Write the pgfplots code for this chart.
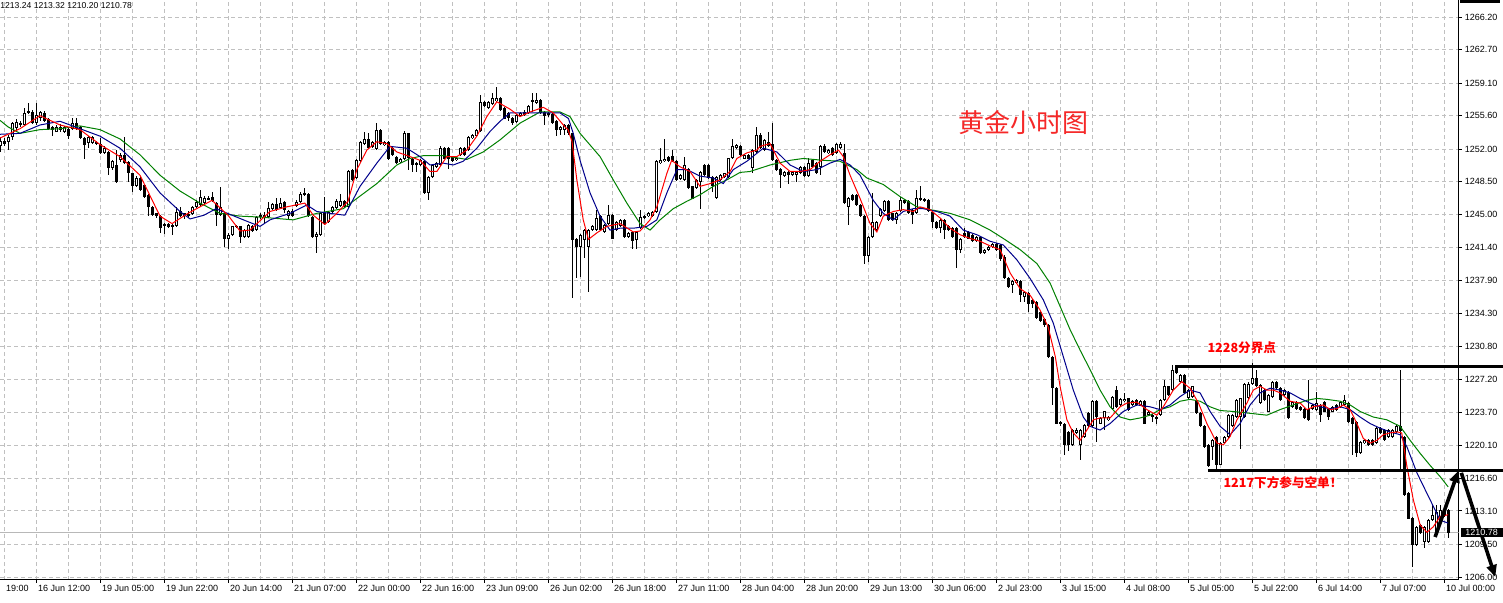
\documentclass[border=0pt]{standalone}
\usepackage{fontspec}
\setmainfont{Liberation Sans}
\newfontfamily\cjk{Noto Sans CJK SC}
\usepackage{pgfplots}
\usepackage{pgfplotstable}
\pgfplotsset{compat=1.18}
\usetikzlibrary{arrows.meta}

\definecolor{gridgray}{RGB}{192,192,192}
\definecolor{maRed}{RGB}{255,0,0}
\definecolor{maBlue}{RGB}{0,0,139}
\definecolor{maGreen}{RGB}{0,128,0}
\definecolor{noteRed}{RGB}{245,40,40}

% hourly bars: index, open, high, low, close
\pgfplotstableread{
i o h l c
0 1252.3 1253.3 1251.7 1252.9
1 1252.9 1253.2 1252.4 1252.6
2 1252.8 1253.5 1251.9 1253.3
3 1253.3 1254.9 1253.0 1254.8
4 1254.3 1255.2 1254.0 1254.9
5 1254.8 1255.0 1254.4 1254.6
6 1254.6 1256.4 1254.5 1255.9
7 1255.9 1257.0 1255.8 1256.1
8 1256.0 1256.2 1254.7 1254.8
9 1254.8 1257.0 1254.6 1255.7
10 1255.3 1256.1 1255.0 1256.0
11 1255.9 1256.1 1254.9 1255.0
12 1255.2 1255.3 1254.1 1254.2
13 1254.4 1254.5 1253.4 1254.1
14 1253.9 1254.6 1253.8 1254.4
15 1254.4 1254.7 1253.9 1254.1
16 1253.9 1254.5 1253.7 1254.4
17 1254.2 1254.3 1253.1 1253.4
18 1254.2 1255.3 1254.1 1254.8
19 1254.8 1255.4 1254.1 1254.2
20 1254.4 1254.5 1253.1 1253.2
21 1253.2 1253.3 1251.0 1252.5
22 1252.7 1253.4 1252.1 1253.3
23 1252.7 1253.4 1252.6 1253.3
24 1252.8 1252.9 1252.5 1252.6
25 1252.6 1253.2 1251.5 1251.6
26 1251.6 1252.3 1251.5 1252.1
27 1251.7 1251.8 1249.2 1250.0
28 1250.0 1250.8 1249.8 1250.7
29 1250.3 1251.9 1248.4 1248.5
30 1250.8 1251.6 1250.6 1251.4
31 1251.4 1253.3 1250.4 1250.5
32 1250.6 1250.7 1248.5 1249.4
33 1249.4 1249.5 1247.4 1248.0
34 1248.0 1249.1 1247.9 1248.9
35 1248.9 1249.0 1247.5 1247.6
36 1248.2 1248.3 1246.8 1246.9
37 1247.1 1247.2 1244.8 1245.8
38 1245.8 1245.9 1244.8 1244.9
39 1245.1 1245.2 1244.6 1244.8
40 1244.8 1244.9 1243.0 1243.5
41 1243.8 1244.1 1242.9 1244.0
42 1244.0 1244.1 1243.5 1243.6
43 1243.6 1244.0 1242.8 1243.8
44 1243.7 1245.8 1243.6 1245.3
45 1245.4 1245.8 1244.7 1244.8
46 1245.1 1245.2 1244.5 1244.8
47 1244.8 1245.3 1244.6 1245.0
48 1245.0 1245.9 1244.9 1245.8
49 1245.8 1246.5 1245.7 1246.3
50 1246.0 1247.6 1245.9 1246.9
51 1246.2 1247.0 1246.1 1246.8
52 1246.8 1247.0 1246.5 1246.6
53 1246.9 1247.4 1246.3 1246.4
54 1246.2 1246.3 1243.7 1244.9
55 1244.9 1247.9 1244.8 1245.8
56 1245.1 1245.2 1241.5 1242.3
57 1242.3 1243.0 1241.3 1242.8
58 1242.8 1243.8 1242.7 1243.7
59 1243.7 1243.9 1243.5 1243.7
60 1243.7 1243.8 1241.9 1242.6
61 1242.6 1243.4 1242.5 1243.3
62 1242.6 1244.0 1242.4 1243.9
63 1243.7 1243.9 1243.1 1243.2
64 1243.3 1244.8 1243.2 1244.7
65 1244.7 1245.1 1244.5 1244.9
66 1244.9 1245.3 1244.0 1244.6
67 1244.7 1246.3 1244.6 1245.7
68 1245.6 1246.2 1245.5 1246.1
69 1246.1 1246.7 1245.4 1245.5
70 1245.7 1246.8 1245.6 1246.2
71 1246.3 1246.4 1245.1 1245.5
72 1244.8 1245.5 1244.4 1245.4
73 1245.4 1245.6 1244.7 1244.8
74 1245.9 1246.5 1245.8 1246.3
75 1246.3 1247.4 1246.2 1247.2
76 1247.1 1247.8 1247.0 1247.3
77 1247.2 1247.3 1244.7 1244.8
78 1244.7 1244.8 1242.5 1242.6
79 1242.6 1243.1 1240.8 1242.9
80 1242.8 1245.2 1242.7 1245.1
81 1245.1 1246.9 1243.9 1244.0
82 1244.2 1245.4 1244.1 1245.3
83 1245.3 1245.9 1245.2 1245.8
84 1245.7 1246.7 1245.6 1246.4
85 1245.9 1247.2 1245.8 1246.4
86 1246.4 1246.5 1245.7 1245.8
87 1245.8 1249.8 1245.7 1249.7
88 1249.8 1249.9 1248.6 1248.7
89 1248.9 1250.9 1248.8 1250.8
90 1250.7 1252.9 1250.6 1252.8
91 1252.6 1253.9 1252.5 1253.1
92 1253.1 1253.7 1252.0 1252.1
93 1252.2 1252.9 1252.1 1252.8
94 1252.0 1254.8 1251.9 1254.1
95 1254.1 1254.2 1252.5 1252.6
96 1252.4 1252.9 1252.3 1252.8
97 1252.8 1252.9 1250.8 1251.0
98 1252.1 1252.3 1251.3 1251.4
99 1251.2 1251.3 1250.4 1250.5
100 1250.6 1251.0 1250.5 1250.9
101 1250.9 1253.9 1250.8 1253.7
102 1253.7 1253.8 1249.8 1251.0
103 1251.0 1251.1 1249.6 1250.3
104 1250.5 1250.6 1249.6 1250.3
105 1250.3 1250.9 1250.2 1250.8
106 1250.7 1250.8 1247.2 1247.3
107 1247.3 1249.1 1246.5 1249.0
108 1249.0 1250.4 1248.9 1250.3
109 1250.1 1250.6 1250.0 1250.5
110 1250.3 1252.3 1250.2 1252.1
111 1252.1 1252.2 1250.9 1251.0
112 1252.1 1252.2 1249.9 1251.0
113 1251.2 1251.3 1250.6 1250.7
114 1250.8 1251.2 1250.7 1251.1
115 1251.4 1252.2 1251.3 1252.1
116 1252.1 1252.2 1251.3 1251.4
117 1251.9 1253.4 1251.8 1253.3
118 1253.2 1253.6 1253.1 1253.5
119 1253.4 1254.2 1253.3 1254.1
120 1253.9 1257.8 1253.8 1257.1
121 1257.1 1257.2 1256.5 1256.6
122 1256.4 1257.2 1256.3 1257.1
123 1256.9 1258.0 1256.8 1257.5
124 1257.2 1258.7 1257.1 1257.5
125 1257.5 1257.6 1256.1 1256.2
126 1256.4 1256.5 1255.2 1255.3
127 1255.9 1256.0 1255.0 1255.3
128 1255.4 1255.5 1254.6 1254.8
129 1254.9 1255.8 1254.8 1255.7
130 1255.6 1256.0 1255.5 1255.9
131 1256.0 1256.2 1255.6 1255.7
132 1255.9 1256.8 1255.8 1256.7
133 1257.3 1258.0 1256.0 1257.1
134 1257.0 1258.0 1256.9 1257.3
135 1257.3 1257.4 1255.8 1255.9
136 1256.0 1256.1 1254.6 1255.6
137 1255.9 1256.0 1255.5 1255.7
138 1255.8 1255.9 1254.7 1254.8
139 1255.0 1255.1 1253.4 1254.1
140 1254.1 1254.5 1253.5 1254.4
141 1254.1 1254.7 1253.5 1254.6
142 1254.6 1254.7 1253.5 1253.7
143 1253.7 1253.8 1236.0 1242.2
144 1242.3 1242.4 1238.1 1241.5
145 1241.5 1242.9 1238.3 1242.8
146 1242.2 1243.4 1240.3 1243.3
147 1241.5 1243.4 1236.7 1243.3
148 1243.3 1243.8 1243.2 1243.7
149 1243.3 1245.5 1243.2 1244.6
150 1244.8 1244.9 1243.2 1243.3
151 1243.1 1244.0 1243.0 1243.9
152 1244.0 1246.0 1243.9 1244.9
153 1244.9 1245.0 1242.3 1242.4
154 1243.3 1244.3 1243.2 1244.2
155 1243.7 1244.5 1243.6 1244.4
156 1244.4 1244.5 1242.5 1242.6
157 1242.6 1243.1 1242.5 1243.0
158 1243.1 1243.2 1241.3 1242.1
159 1242.2 1243.2 1241.3 1243.1
160 1243.5 1245.5 1243.4 1244.7
161 1244.6 1244.9 1244.5 1244.8
162 1244.8 1245.2 1244.7 1245.1
163 1244.8 1245.4 1244.7 1245.3
164 1245.3 1250.8 1245.2 1250.7
165 1250.5 1252.1 1250.4 1250.8
166 1250.7 1253.1 1250.6 1251.0
167 1251.2 1251.3 1250.6 1250.7
168 1251.3 1251.9 1250.6 1250.7
169 1250.7 1250.8 1248.6 1248.7
170 1248.8 1249.3 1248.7 1249.2
171 1248.7 1251.2 1248.6 1250.3
172 1249.9 1250.0 1247.7 1247.8
173 1248.0 1248.1 1246.6 1246.7
174 1247.8 1248.8 1247.7 1248.7
175 1248.5 1249.7 1245.6 1249.6
176 1250.3 1250.4 1249.1 1249.2
177 1250.3 1250.4 1248.8 1248.9
178 1249.0 1249.1 1247.4 1248.0
179 1246.7 1249.1 1246.6 1249.0
180 1248.7 1249.3 1248.6 1249.2
181 1249.0 1249.5 1248.9 1249.4
182 1249.0 1251.1 1248.9 1251.0
183 1251.0 1253.1 1250.9 1252.3
184 1252.1 1252.6 1252.0 1252.5
185 1252.4 1252.5 1251.3 1251.4
186 1251.0 1251.5 1250.9 1251.4
187 1251.4 1251.5 1250.9 1251.0
188 1250.0 1252.0 1249.4 1251.9
189 1251.7 1254.4 1251.6 1253.5
190 1253.5 1253.7 1252.0 1252.1
191 1251.9 1253.1 1251.8 1253.0
192 1252.8 1253.9 1252.2 1252.3
193 1252.6 1254.8 1250.7 1250.8
194 1250.8 1250.9 1249.7 1249.8
195 1249.9 1250.0 1247.8 1249.2
196 1249.1 1249.7 1249.0 1249.6
197 1249.6 1249.7 1248.3 1249.2
198 1249.2 1249.7 1249.1 1249.6
199 1249.2 1249.7 1248.5 1249.6
200 1249.4 1250.2 1249.3 1250.1
201 1250.1 1250.2 1249.0 1249.1
202 1249.1 1251.0 1249.0 1250.5
203 1250.8 1250.9 1250.0 1250.1
204 1250.5 1250.6 1249.3 1249.4
205 1250.1 1252.5 1249.2 1252.4
206 1252.3 1252.6 1251.6 1251.7
207 1251.6 1252.0 1251.5 1251.9
208 1252.1 1252.2 1251.3 1251.4
209 1251.6 1252.7 1251.5 1252.6
210 1252.1 1252.8 1252.0 1252.6
211 1251.6 1252.6 1246.1 1246.2
212 1245.8 1246.9 1243.9 1246.8
213 1247.1 1247.2 1246.4 1246.5
214 1247.1 1247.2 1245.9 1246.0
215 1246.0 1246.1 1244.7 1244.8
216 1244.8 1244.9 1239.7 1240.5
217 1240.5 1242.7 1239.9 1242.6
218 1242.6 1247.3 1242.5 1244.2
219 1243.3 1244.3 1243.2 1244.2
220 1244.8 1245.7 1244.7 1245.6
221 1245.3 1246.5 1245.2 1246.4
222 1246.4 1246.5 1244.3 1244.4
223 1245.1 1245.2 1244.3 1244.4
224 1244.4 1245.2 1244.0 1245.1
225 1245.3 1246.9 1245.2 1246.5
226 1246.5 1246.6 1246.1 1246.2
227 1246.4 1246.5 1245.0 1245.1
228 1245.5 1245.6 1244.0 1244.9
229 1245.1 1247.6 1245.0 1246.7
230 1246.7 1248.1 1246.4 1246.5
231 1246.7 1246.8 1246.3 1246.4
232 1246.5 1246.6 1245.2 1245.3
233 1245.3 1245.4 1243.5 1244.2
234 1244.2 1244.3 1243.4 1243.5
235 1243.5 1244.5 1243.0 1244.4
236 1244.4 1244.5 1242.4 1243.3
237 1243.7 1243.8 1243.2 1243.3
238 1243.5 1243.6 1242.5 1242.6
239 1243.5 1243.6 1239.2 1241.2
240 1241.2 1242.5 1240.8 1242.4
241 1243.0 1243.5 1242.5 1242.6
242 1243.1 1243.2 1242.3 1242.4
243 1242.8 1242.9 1242.0 1242.1
244 1242.1 1242.7 1242.0 1242.6
245 1242.6 1242.7 1240.7 1240.8
246 1240.8 1241.3 1240.7 1241.2
247 1241.2 1241.6 1241.1 1241.5
248 1241.5 1241.9 1241.4 1241.8
249 1241.8 1241.9 1241.1 1241.2
250 1241.7 1241.8 1240.0 1240.2
251 1240.4 1240.6 1238.0 1238.2
252 1238.2 1238.3 1237.1 1237.2
253 1237.4 1237.9 1236.5 1237.8
254 1237.6 1238.0 1237.5 1237.9
255 1237.8 1237.9 1235.6 1236.3
256 1236.1 1236.8 1235.6 1236.7
257 1236.5 1236.6 1234.5 1235.4
258 1235.8 1235.9 1234.9 1235.3
259 1235.6 1235.7 1233.7 1233.8
260 1234.5 1234.6 1233.4 1233.5
261 1233.8 1233.9 1232.9 1233.1
262 1233.1 1233.2 1229.6 1229.7
263 1229.7 1229.8 1224.5 1226.3
264 1226.3 1226.4 1222.4 1222.5
265 1222.7 1222.8 1222.2 1222.4
266 1222.5 1222.6 1219.1 1220.2
267 1221.6 1221.7 1219.5 1220.2
268 1220.2 1221.9 1220.1 1221.8
269 1221.5 1222.0 1221.4 1221.8
270 1220.2 1221.9 1218.6 1221.8
271 1221.1 1222.5 1221.0 1222.4
272 1223.6 1223.7 1222.1 1222.2
273 1222.2 1225.0 1222.1 1224.9
274 1224.9 1225.0 1220.5 1223.2
275 1222.5 1223.2 1222.4 1223.1
276 1223.1 1223.9 1221.8 1223.8
277 1222.9 1223.3 1222.8 1223.2
278 1224.1 1225.5 1224.0 1225.4
279 1226.1 1226.5 1224.2 1224.3
280 1224.5 1225.3 1224.4 1225.2
281 1224.9 1225.8 1224.8 1225.2
282 1225.2 1225.3 1223.9 1224.0
283 1224.5 1225.0 1224.4 1224.9
284 1225.0 1225.1 1224.4 1224.5
285 1224.5 1225.0 1224.4 1224.9
286 1224.9 1225.0 1222.4 1222.5
287 1223.4 1223.9 1223.3 1223.8
288 1223.2 1223.5 1222.7 1223.4
289 1223.2 1223.3 1222.5 1223.1
290 1223.4 1225.1 1223.3 1225.0
291 1225.0 1227.2 1224.9 1226.5
292 1226.5 1226.6 1225.5 1225.6
293 1226.1 1228.8 1226.0 1228.3
294 1228.6 1228.8 1227.8 1227.9
295 1227.0 1227.8 1226.9 1227.7
296 1227.7 1227.8 1225.7 1225.8
297 1225.2 1226.2 1225.1 1226.1
298 1225.4 1226.6 1225.3 1226.5
299 1225.0 1225.1 1223.5 1223.6
300 1223.6 1223.7 1222.1 1222.2
301 1222.2 1222.3 1219.9 1220.0
302 1220.2 1220.3 1217.8 1217.9
303 1220.0 1220.8 1218.6 1220.7
304 1221.1 1221.2 1217.5 1218.0
305 1218.1 1220.5 1218.0 1220.4
306 1220.4 1221.2 1220.3 1221.1
307 1221.1 1223.5 1221.0 1223.4
308 1222.2 1223.5 1222.1 1223.4
309 1223.2 1225.1 1223.1 1225.0
310 1223.2 1225.3 1219.8 1225.2
311 1223.2 1226.9 1223.1 1226.8
312 1225.2 1227.0 1225.1 1226.8
313 1226.8 1229.0 1226.7 1227.4
314 1227.4 1228.3 1226.4 1226.5
315 1224.7 1226.7 1224.6 1226.6
316 1226.1 1226.2 1224.9 1225.0
317 1223.8 1225.7 1223.7 1225.6
318 1225.4 1227.1 1225.3 1227.0
319 1227.0 1227.1 1226.2 1226.3
320 1226.3 1226.4 1224.9 1225.0
321 1225.6 1226.2 1225.5 1226.1
322 1225.9 1226.0 1223.0 1223.1
323 1224.3 1224.9 1224.2 1224.8
324 1224.8 1224.9 1224.0 1224.1
325 1224.3 1224.4 1223.9 1224.0
326 1224.1 1224.2 1223.0 1223.1
327 1224.1 1227.2 1222.8 1222.9
328 1224.1 1224.6 1224.0 1224.5
329 1224.0 1225.9 1223.9 1224.7
330 1224.5 1224.6 1222.7 1223.4
331 1224.8 1224.9 1223.7 1223.8
332 1224.1 1224.2 1222.9 1223.2
333 1223.8 1224.4 1223.7 1224.3
334 1224.5 1224.6 1223.9 1224.0
335 1224.3 1224.9 1224.2 1224.8
336 1224.5 1225.6 1224.4 1225.0
337 1224.7 1224.8 1222.6 1222.7
338 1223.1 1223.2 1219.1 1222.5
339 1222.7 1222.8 1218.9 1219.3
340 1219.3 1220.6 1219.2 1220.5
341 1220.4 1220.8 1220.3 1220.7
342 1220.7 1220.8 1220.1 1220.2
343 1220.7 1220.8 1220.1 1220.2
344 1220.4 1222.1 1220.3 1222.0
345 1222.0 1222.1 1221.4 1221.5
346 1221.8 1221.9 1220.6 1220.7
347 1221.1 1221.9 1221.0 1221.8
348 1221.1 1221.9 1221.0 1221.8
349 1221.6 1222.4 1221.5 1222.2
350 1222.2 1228.3 1217.3 1221.7
351 1221.1 1221.2 1214.7 1214.8
352 1215.0 1215.1 1212.2 1212.3
353 1212.3 1212.4 1207.1 1209.4
354 1209.4 1211.5 1209.3 1211.4
355 1211.6 1211.7 1210.6 1210.7
356 1209.8 1211.5 1209.1 1211.4
357 1209.8 1212.2 1209.7 1212.1
358 1212.1 1213.7 1212.0 1212.7
359 1210.5 1213.7 1210.4 1213.0
360 1212.5 1213.7 1212.4 1213.2
361 1212.6 1213.5 1212.5 1213.3
362 1213.24 1213.32 1210.20 1210.78
}\bars

% moving averages
\pgfplotstableread{
i p
0 1253.2
5 1254.2
10 1255.6
15 1254.6
20 1254.1
25 1252.5
30 1251.2
35 1249.2
40 1244.8
43 1244.0
47 1245.1
53 1246.5
57 1244.9
60 1243.2
62.5 1243.3
67.5 1245.3
71.7 1245.8
76.2 1246.2
78.3 1244.9
81.2 1243.9
84.2 1245.1
87 1246.4
89.2 1249.8
91.7 1251.9
94.2 1252.8
96.7 1252.6
99.2 1251.7
102.5 1251.2
105 1250.8
107.5 1249.6
109.2 1249.6
111.7 1251.2
114.2 1251.2
116.7 1251.9
119.2 1253.4
121.7 1255.5
124.2 1257.1
127.5 1256.3
130 1255.5
132.5 1256.0
135.8 1256.5
138.3 1255.9
141.2 1254.4
142 1254.1
143 1252.8
144.2 1248.7
145.8 1244.4
147.1 1242.3
149.2 1243.0
151.7 1243.7
155 1244.0
158.3 1243.1
160 1243.2
162.5 1244.4
164.2 1245.8
166.7 1249.4
167.9 1250.8
170 1250.1
172.5 1249.6
175 1248.0
177.5 1248.3
180 1248.7
182.5 1249.6
184.2 1251.0
186.7 1251.6
189.2 1251.9
190 1252.3
192.5 1252.6
195 1250.5
197.5 1249.6
200 1249.6
202.5 1249.8
205 1250.7
207.5 1251.4
209.6 1251.9
210.8 1251.2
212.5 1249.2
215 1246.7
217.5 1244.0
219.2 1243.1
220.8 1244.8
223.3 1245.3
225.8 1245.5
228.3 1245.3
230 1245.8
232.5 1245.5
235 1244.6
237.5 1243.5
240 1242.8
242.5 1242.4
245 1242.1
247.5 1241.6
250 1241.2
252.5 1238.7
255 1237.0
257.5 1236.3
260 1234.7
262 1232.9
263.8 1229.7
265 1226.5
266.7 1222.9
268.3 1221.5
270 1220.7
271.7 1221.8
273.3 1222.9
275 1223.1
277.5 1223.1
280 1224.3
281.7 1224.7
284.2 1224.8
286.7 1224.0
289.2 1223.4
290.8 1224.3
293.3 1226.1
295.4 1227.0
297.5 1226.3
299.6 1224.7
301.7 1222.5
304.2 1220.4
305.8 1220.2
307.5 1221.1
309.2 1222.9
311.7 1224.7
313.3 1226.1
315 1226.5
316.7 1226.1
318.3 1226.1
320 1225.8
322.5 1224.9
325 1224.7
326.7 1224.0
328.3 1224.3
330.8 1224.5
332.5 1224.0
334.2 1224.1
335.8 1224.5
337.5 1224.0
339.2 1222.5
340.8 1220.9
342.5 1220.4
344.2 1220.7
345.8 1221.3
347.5 1221.5
349.2 1221.6
350.4 1221.5
351.7 1217.9
353.3 1214.3
355 1211.6
356.7 1210.8
358.3 1211.4
360 1212.5
362 1212.7
}\maFast

\pgfplotstableread{
i p
0 1253.6
5 1253.7
10 1254.6
15 1255.0
20 1254.2
25 1253.4
30 1252.1
35 1250.1
40 1247.3
45 1245.3
47.5 1244.5
51 1244.9
54 1245.6
58 1244.9
62 1244.2
65 1243.7
67.5 1244.4
72.5 1245.1
76.7 1246.0
79.2 1245.3
82.5 1245.1
86.2 1244.9
90 1248.0
94.2 1250.5
97.5 1252.3
101.7 1252.1
105 1251.2
107.5 1250.3
110.8 1250.5
113.3 1250.3
115.8 1250.7
119.2 1252.1
122.5 1253.9
125 1255.0
127.5 1255.9
130 1255.9
135 1255.9
140 1255.9
142.1 1255.3
143.3 1253.7
145 1250.8
147.5 1247.3
150 1244.8
152.5 1243.3
155 1243.5
158.3 1243.5
161.7 1243.7
164.2 1244.4
166.7 1247.3
169.2 1249.8
171.7 1249.8
175 1249.1
178.3 1248.9
180.8 1248.3
183.3 1249.8
186.7 1250.7
190.8 1252.1
194.2 1251.7
197.5 1250.3
200.8 1249.6
204.2 1249.8
207.5 1250.5
210 1250.9
212.5 1250.3
215 1249.2
218.3 1246.5
220.8 1245.1
223.3 1244.4
225.8 1245.3
228.3 1245.6
230.8 1245.6
234.2 1245.3
237.5 1244.8
240.8 1243.3
244.2 1242.8
247.5 1242.1
250.8 1241.7
254.2 1240.1
257.5 1238.1
260.8 1235.8
263.3 1233.3
265.8 1229.7
268.3 1226.1
270.8 1223.2
272.5 1222.2
275 1221.8
277.5 1222.5
280.8 1223.8
284.2 1224.5
287.5 1224.3
290 1224.0
292.5 1224.5
295 1225.4
297.5 1226.1
300 1225.8
302.5 1223.8
305 1222.2
307.5 1221.3
310 1222.5
312.5 1224.5
315 1225.8
317.5 1226.3
320 1226.1
322.5 1225.8
325 1225.2
327.5 1224.7
330 1224.3
332.5 1224.1
335 1224.3
337.5 1224.0
340 1223.2
342.5 1222.5
345 1222.0
347.5 1221.6
350 1221.3
351.7 1220.0
354.2 1217.2
356.7 1215.0
358.3 1213.6
360 1212.1
362 1211.8
}\maMid

\pgfplotstableread{
i p
0 1255.1
2 1254.4
5 1253.7
10 1254.1
15 1254.2
20 1254.5
25 1254.1
30 1253.1
35 1251.4
40 1249.2
45 1247.5
50 1246.2
55 1245.1
60 1244.8
65 1244.7
73.3 1244.4
79.2 1245.1
85.8 1245.6
89.2 1246.7
94.2 1248.3
99.2 1250.3
102.5 1251.0
105.8 1251.3
110.8 1251.3
116.7 1250.9
120.8 1251.7
125 1253.0
127.5 1253.9
130 1254.8
135 1256.0
140 1256.0
142.5 1255.5
145 1253.7
150 1251.2
153.3 1248.7
156.7 1246.2
160 1244.0
162.5 1243.3
165 1244.4
168.3 1245.6
171.7 1246.4
175 1247.1
178.3 1248.0
181.7 1248.7
185 1249.5
187.5 1249.6
192.5 1250.3
197.5 1250.8
200.8 1251.0
205.8 1250.8
210 1250.7
214.2 1249.8
216.7 1248.9
220.8 1248.2
225 1246.9
229.2 1245.8
232.5 1245.5
237.5 1245.1
242.5 1244.4
247.5 1243.3
250.8 1242.4
255 1241.2
259.2 1239.7
262.5 1237.6
265 1235.1
267.5 1232.6
270 1230.4
272.5 1228.3
275 1226.1
277.5 1224.3
280 1223.2
282.5 1222.9
285 1223.1
287.5 1223.4
290 1224.0
292.5 1224.3
295 1224.9
297.5 1225.1
300 1224.9
302.5 1224.3
305 1223.9
308.3 1223.8
312.5 1223.6
316.7 1223.4
320 1224.0
323.3 1224.5
326.7 1225.0
329.2 1225.2
331.7 1225.1
335 1224.9
337.5 1224.5
340 1223.8
343.3 1223.2
346.7 1222.9
350 1222.2
352.5 1220.7
355 1219.3
357.5 1218.0
360 1216.8
362 1215.7
}\maSlow

% error bars used as candle wicks and bodies: colour, width
\pgfplotsset{
  candle/.style 2 args={draw=none, mark=none,
    error bars/.cd, y dir=both, y explicit, error mark=none,
    error bar style={draw=#1, solid, line width=#2}},
}

\begin{document}
\begin{tikzpicture}
\begin{axis}[
  scale only axis,
  width=729.25pt, height=290pt,
  xmin=0, xmax=364.6,
  ymin=1205.68, ymax=1268.04,
  axis x line*=bottom, axis y line*=right,
  axis line style={black, line width=0.5pt},
  clip mode=individual,
  xtick={9,25,...,361},
  xticklabels={16 Jun 12:00,19 Jun 05:00,19 Jun 22:00,20 Jun 14:00,21 Jun 07:00,22 Jun 00:00,22 Jun 16:00,23 Jun 09:00,26 Jun 02:00,26 Jun 18:00,27 Jun 11:00,28 Jun 04:00,28 Jun 20:00,29 Jun 13:00,30 Jun 06:00,2 Jul 23:00,3 Jul 15:00,4 Jul 08:00,5 Jul 05:00,5 Jul 22:00,6 Jul 14:00,7 Jul 07:00,10 Jul 00:00},
  minor xtick={1,17,...,353},
  ytick={1206.00,1209.50,1213.10,1216.60,1220.10,1223.70,1227.20,1230.80,1234.30,1237.90,1241.40,1245.00,1248.50,1252.00,1255.60,1259.10,1262.70,1266.20},
  yticklabels={1206.00,1209.50,1213.10,1216.60,1220.10,1223.70,1227.20,1230.80,1234.30,1237.90,1241.40,1245.00,1248.50,1252.00,1255.60,1259.10,1262.70,1266.20},
  tick align=outside,
  major tick length=1.5pt, minor tick length=0pt,
  tick style={black, line width=0.5pt},
  xmajorgrids, xminorgrids, ymajorgrids,
  grid style={gridgray, line width=0.5pt, dash pattern=on 2pt off 1.5pt},
  minor grid style={gridgray, line width=0.5pt, dash pattern=on 2pt off 1.5pt},
  ticklabel style={font=\fontsize{4.5pt}{5pt}\selectfont, inner sep=0pt},
  xticklabel style={anchor=north west, xshift=0.8pt, yshift=-1pt},
  yticklabel style={anchor=west, xshift=1.5pt},
]
% current price line
\addplot[black!28, line width=0.5pt] coordinates {(0,1210.78) (364.6,1210.78)};

% wicks
\addplot[candle={black}{0.5pt}]
  table[x=i, y expr={(\thisrow{h}+\thisrow{l})/2}, y error expr={(\thisrow{h}-\thisrow{l})/2}] {\bars};
% bodies (outline for rising bars)
\addplot[candle={black}{1.5pt}]
  table[x=i, y expr={(\thisrow{o}+\thisrow{c})/2}, y error expr={max(abs(\thisrow{c}-\thisrow{o})/2,0.054)}] {\bars};
% hollow inside of rising bars
\addplot[candle={white}{0.5pt}]
  table[x=i, y expr={(\thisrow{o}+\thisrow{c})/2}, y error expr={max((\thisrow{c}-\thisrow{o})/2-0.108,0)}] {\bars};

\addplot[maGreen, line width=0.5pt, mark=none] table[x=i, y=p] {\maSlow};
\addplot[maBlue, line width=0.5pt, mark=none] table[x=i, y=p] {\maMid};
\addplot[maRed, line width=0.5pt, mark=none] table[x=i, y=p] {\maFast};

% annotations
\draw[black, line width=1.6pt] (axis cs:293.75,1228.6) -- (axis cs:375.75,1228.6);
\draw[black, line width=1.6pt] (axis cs:302,1217.45) -- (axis cs:375.75,1217.45);
\draw[black, line width=1.8pt, -{Triangle[length=6pt,width=5pt]}] (axis cs:358.75,1210.3) -- (axis cs:364.6,1217.45);
\draw[black, line width=1.8pt, -{Triangle[length=6pt,width=5pt]}] (axis cs:365.3,1217.2) -- (axis cs:373.8,1206.0);

\node[text=noteRed, font=\cjk\fontsize{13pt}{13pt}\selectfont] at (axis cs:255.75,1254.9) {黄金小时图};
\node[anchor=west, inner sep=0pt, text=red, font=\cjk\bfseries\fontsize{6.3pt}{7pt}\selectfont] at (axis cs:301.75,1230.6) {1228分界点};
\node[anchor=west, inner sep=0pt, text=red, font=\cjk\bfseries\fontsize{6.3pt}{7pt}\selectfont] at (axis cs:305.75,1216.2) {1217下方参与空单！};

\node[anchor=west, fill=black, text=white, inner sep=0pt, minimum width=21pt, minimum height=4.6pt,
  font=\fontsize{4.5pt}{5pt}\selectfont] at (axis cs:365,1210.8) {1210.78};
\fill[black] (axis cs:365,1268.04) rectangle (axis cs:375,1267.75);

\node[anchor=north west, inner sep=0pt, yshift=-1pt, font=\fontsize{4.3pt}{5pt}\selectfont]
  at (rel axis cs:0,1) {1213.24 1213.32 1210.20 1210.78};
\node[anchor=north west, inner sep=0pt, xshift=0.8pt, yshift=-2.5pt, font=\fontsize{4.5pt}{5pt}\selectfont]
  at (axis cs:1,1205.68) {19:00};
\end{axis}
\pgfresetboundingbox
\path[use as bounding box] (current axis.south west) ++(0,-11.5pt) rectangle ++(751.5pt,301.5pt);
\end{tikzpicture}
\end{document}
